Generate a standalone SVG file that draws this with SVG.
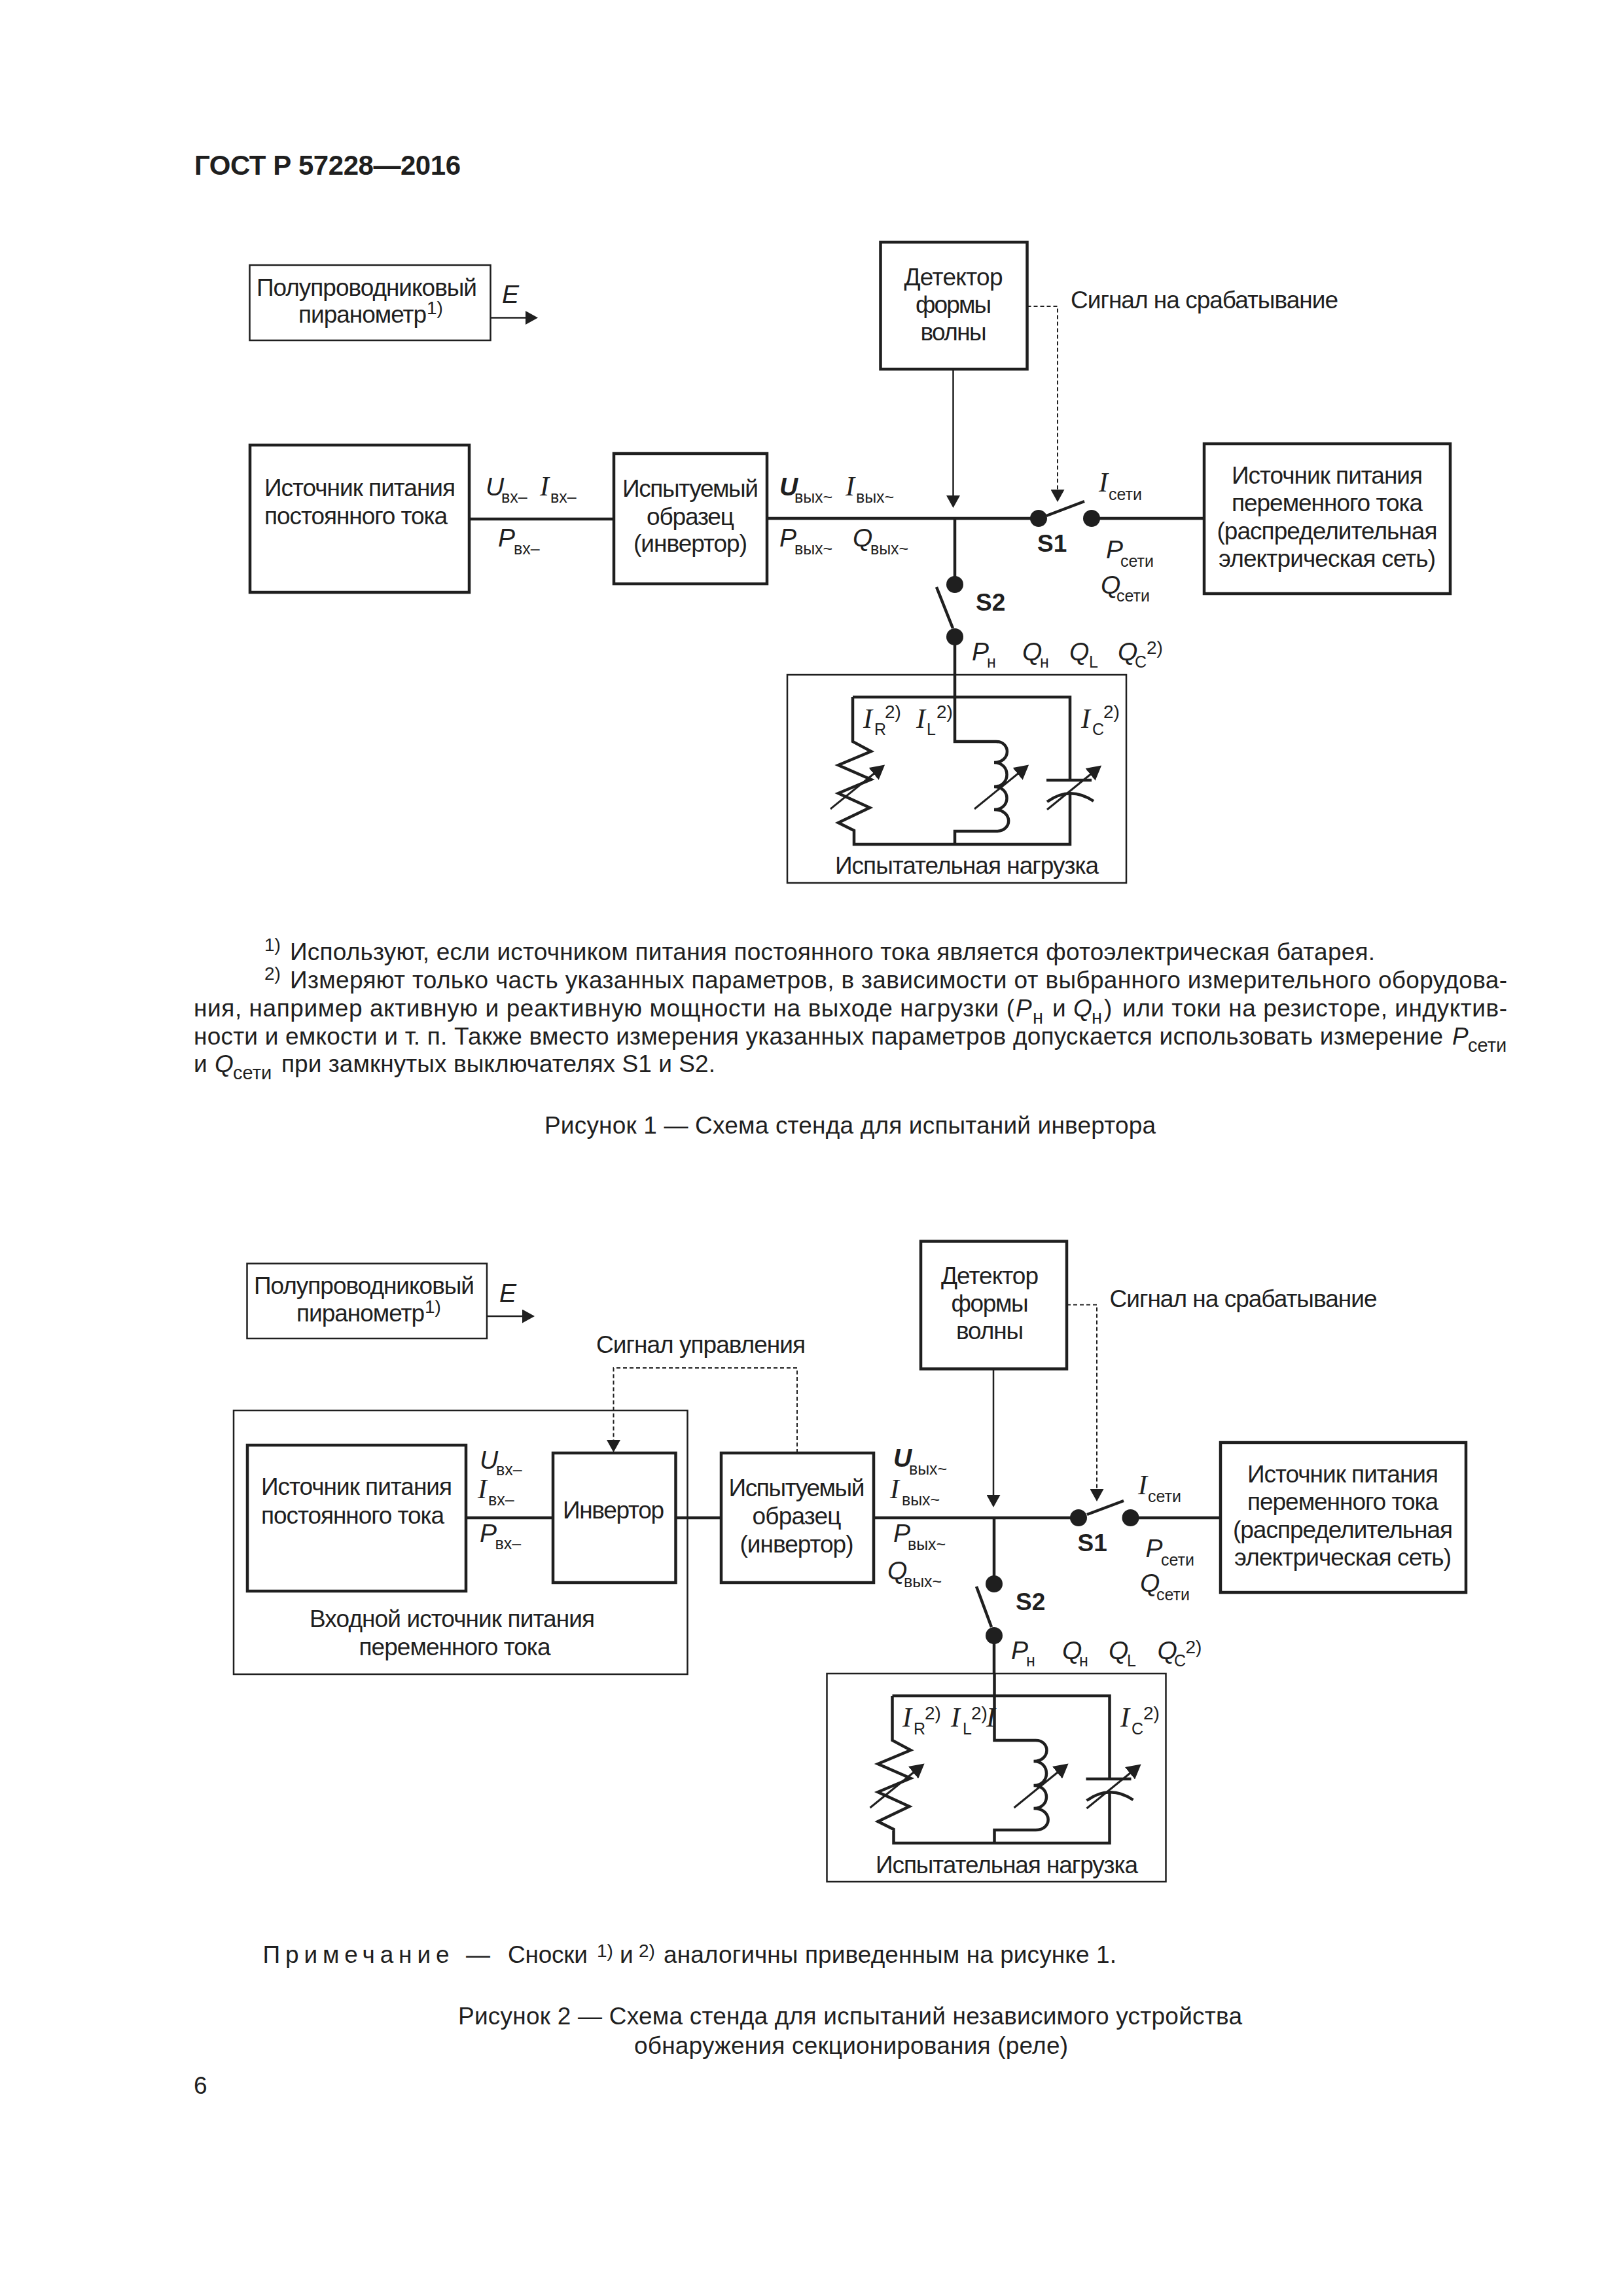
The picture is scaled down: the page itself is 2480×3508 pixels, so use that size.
<svg xmlns="http://www.w3.org/2000/svg" xmlns:xlink="http://www.w3.org/1999/xlink" width="2480" height="3508" viewBox="0 0 2480 3508">
<style>
text{font-family:"Liberation Sans",Arial,sans-serif;font-size:37px;fill:#1f1f1f}
.c{text-anchor:middle}
.h{font-weight:bold;font-size:42px}
.i{font-style:italic;font-size:39px}
.bi{font-style:italic;font-weight:bold;font-size:39px}
.b{font-weight:bold;font-size:37px}
.s{font-size:25px}
.u{font-size:28px}
.si{font-family:"Liberation Serif","Times New Roman",serif;font-style:italic;font-size:42px}
.fi{font-style:italic;font-size:37px}
.fs{font-size:29px}
.box{fill:none;stroke:#1f1f1f;stroke-width:4.5}
.thin{fill:none;stroke:#1f1f1f;stroke-width:2.5}
.wire{fill:none;stroke:#1f1f1f;stroke-width:4.5}
.ln{fill:none;stroke:#1f1f1f;stroke-width:2.5}
.dash{fill:none;stroke:#1f1f1f;stroke-width:2;stroke-dasharray:6 4}
.dot{fill:#1f1f1f}
</style>
<defs>
<marker id="ah" markerUnits="userSpaceOnUse" viewBox="0 0 19 21" refX="15" refY="10.5" markerWidth="19" markerHeight="21" orient="auto"><path d="M0,0L19,10.5L0,21Z" fill="#1f1f1f"/></marker>
<marker id="av" markerUnits="userSpaceOnUse" viewBox="0 0 22 24" refX="18" refY="12" markerWidth="22" markerHeight="24" orient="auto"><path d="M0,0L22,12L0,24Z" fill="#1f1f1f"/></marker>
<g id="circuit">
<rect class="thin" x="1203" y="1031" width="518" height="318"/>
<path class="wire" d="M1459,1031V1133H1522C1545,1133 1545,1165 1519,1165C1545,1165 1545,1202 1519,1202C1545,1202 1545,1237 1519,1237C1548,1237 1548,1270 1522,1270H1459V1290"/>
<path class="wire" d="M1303,1065H1635V1192M1303,1065V1133L1331,1148L1281,1169L1331,1191L1281,1212L1329,1234L1281,1257L1305,1269V1290H1635V1212"/>
<path class="wire" d="M1599,1192H1668M1600,1225Q1635,1200 1671,1224"/>
<path class="ln" style="stroke-width:3" d="M1269,1236L1349,1171" marker-end="url(#av)"/>
<path class="ln" style="stroke-width:3" d="M1489,1236L1569,1171" marker-end="url(#av)"/>
<path class="ln" style="stroke-width:3" d="M1600,1237L1680,1172" marker-end="url(#av)"/>
</g>
</defs>
<rect width="2480" height="3508" fill="#fff"/>

<text id="header" class="h" x="297" y="267" textLength="407">ГОСТ Р 57228—2016</text>

<g id="connectors-1">
<path class="ln" d="M749,485.5H818" marker-end="url(#ah)"/>
<path class="wire" d="M717,793H938M1172,792H1587M1668,792H1840M1459,792V893M1459,973V1031"/>
<path class="wire" d="M1599,788L1657,766M1456,960L1431,897"/>
<path class="ln" d="M1456.5,564V772" marker-end="url(#ah)"/>
<path class="dash" d="M1569.5,468H1616V763" marker-end="url(#ah)"/>
</g>
<g id="pyranometer-1">
<rect class="thin" x="381.5" y="405" width="368" height="115"/>
<text x="392" y="451.5" textLength="337">Полупроводниковый</text>
<text x="456" y="493" textLength="196">пиранометр</text>
<text class="u" x="652" y="480">1)</text>
<text class="i" x="767" y="463">E</text>
</g>
<g id="dc-source-1">
<rect class="box" x="382" y="680" width="335" height="225"/>
<text x="404" y="758" textLength="292">Источник питания</text>
<text x="404" y="801" textLength="280">постоянного тока</text>
</g>
<g id="labels-in-1">
<text class="i" x="742" y="757">U</text><text class="s" x="766" y="768">вх–</text>
<text class="si" x="825" y="757">I</text><text class="s" x="841" y="768">вх–</text>
<text class="i" x="761" y="835">P</text><text class="s" x="785" y="847">вх–</text>
</g>
<g id="sample-1">
<rect class="box" x="938" y="693" width="234" height="199"/>
<text class="c" x="1055" y="759" textLength="208">Испытуемый</text>
<text class="c" x="1055" y="802" textLength="134">образец</text>
<text class="c" x="1055" y="843" textLength="174">(инвертор)</text>
</g>
<g id="labels-out-1">
<text class="bi" x="1191" y="757">U</text><text class="s" x="1214" y="768" textLength="58">вых~</text>
<text class="si" x="1292" y="757">I</text><text class="s" x="1308" y="768" textLength="58">вых~</text>
<text class="i" x="1191" y="835">P</text><text class="s" x="1214" y="847" textLength="58">вых~</text>
<text class="i" x="1303" y="835">Q</text><text class="s" x="1330" y="847" textLength="58">вых~</text>
</g>
<g id="detector-1">
<rect class="box" x="1345.5" y="370" width="224" height="194"/>
<text class="c" x="1457" y="436" textLength="151">Детектор</text>
<text class="c" x="1457" y="478" textLength="116">формы</text>
<text class="c" x="1457" y="520" textLength="101">волны</text>
</g>
<text id="trip-signal-1" x="1636" y="471" textLength="409">Сигнал на срабатывание</text>
<g id="switch-s1-1">
<circle class="dot" cx="1587" cy="792" r="13"/><circle class="dot" cx="1668" cy="792" r="13"/>
<text class="b" x="1585" y="843">S1</text>
</g>
<g id="switch-s2-1">
<circle class="dot" cx="1459" cy="893" r="13"/><circle class="dot" cx="1459" cy="973" r="13"/>
<text class="b" x="1491" y="933">S2</text>
</g>
<g id="labels-grid-1">
<text class="si" x="1679" y="751">I</text><text class="s" x="1694" y="764">сети</text>
<text class="i" x="1690" y="853">P</text><text class="s" x="1712" y="866">сети</text>
<text class="i" x="1682" y="907">Q</text><text class="s" x="1706" y="919">сети</text>
</g>
<g id="ac-source-1">
<rect class="box" x="1840" y="678" width="376" height="229"/>
<text class="c" x="2028" y="739" textLength="292">Источник питания</text>
<text class="c" x="2028" y="781" textLength="292">переменного тока</text>
<text class="c" x="2028" y="824" textLength="337">(распределительная</text>
<text class="c" x="2028" y="866" textLength="332">электрическая сеть)</text>
</g>
<g id="labels-load-1">
<text class="i" x="1485" y="1009">P</text><text class="s" x="1508" y="1020">н</text>
<text class="i" x="1562" y="1009">Q</text><text class="s" x="1589" y="1020">н</text>
<text class="i" x="1634" y="1009">Q</text><text class="s" x="1664" y="1020">L</text>
<text class="i" x="1708" y="1009">Q</text><text class="s" x="1734" y="1020">C</text><text class="u" x="1752" y="999">2)</text>
</g>
<g id="load-1">
<use href="#circuit" xlink:href="#circuit"/>
<text class="si" x="1319" y="1112">I</text><text class="s" x="1336" y="1123">R</text><text class="u" x="1352" y="1097">2)</text>
<text class="si" x="1400" y="1112">I</text><text class="s" x="1416" y="1123">L</text><text class="u" x="1431" y="1097">2)</text>
<text class="si" x="1652" y="1112">I</text><text class="s" x="1669" y="1123">C</text><text class="u" x="1686" y="1097">2)</text>
<text x="1276" y="1335" textLength="403">Испытательная нагрузка</text>
</g>

<g id="notes-1">
<text class="u" x="404" y="1453">1)</text>
<text x="443" y="1467" textLength="1658">Используют, если источником питания постоянного тока является фотоэлектрическая батарея.</text>
<text class="u" x="404" y="1497">2)</text>
<text x="443" y="1510" textLength="1860">Измеряют только часть указанных параметров, в зависимости от выбранного измерительного оборудова-</text>
<text x="296" y="1553" textLength="1254">ния, например активную и реактивную мощности на выходе нагрузки (</text>
<text class="fi" x="1552" y="1553">P</text><text class="fs" x="1578" y="1564">н</text>
<text x="1608" y="1553">и</text>
<text class="fi" x="1640" y="1553">Q</text><text class="fs" x="1668" y="1564">н</text>
<text x="1687" y="1553">)</text>
<text x="1715" y="1553" textLength="588">или токи на резисторе, индуктив-</text>
<text x="296" y="1596" textLength="1909">ности и емкости и т. п. Также вместо измерения указанных параметров допускается использовать измерение</text>
<text class="fi" x="2219" y="1596">P</text><text class="fs" x="2243" y="1607">сети</text>
<text x="296" y="1638">и</text>
<text class="fi" x="328" y="1638">Q</text><text class="fs" x="356" y="1649">сети</text>
<text x="430" y="1638" textLength="663">при замкнутых выключателях S1 и S2.</text>
</g>
<text id="caption-1" x="832" y="1732" textLength="934">Рисунок 1 — Схема стенда для испытаний инвертора</text>

<g id="connectors-2">
<path class="ln" d="M744,2011H813" marker-end="url(#ah)"/>
<path class="wire" d="M712,2319H845M1033,2319H1102M1335,2319H1648M1727,2319H1865M1519,2319V2420M1519,2499V2558"/>
<path class="wire" d="M1661,2314L1717,2293M1515,2486L1492,2424"/>
<path class="ln" d="M1518,2092V2299" marker-end="url(#ah)"/>
<path class="dash" d="M1630,1993.5H1676V2290" marker-end="url(#ah)"/>
<path class="dash" d="M1218,2220V2090H937.5V2215" marker-end="url(#ah)"/>
</g>
<g id="pyranometer-2">
<rect class="thin" x="377.5" y="1930.5" width="366.5" height="114.5"/>
<text x="388" y="1977" textLength="337">Полупроводниковый</text>
<text x="453" y="2019" textLength="196">пиранометр</text>
<text class="u" x="649" y="2006">1)</text>
<text class="i" x="763" y="1988.5">E</text>
</g>
<text id="control-signal" x="911" y="2066.5" textLength="320">Сигнал управления</text>
<g id="input-source">
<rect class="thin" x="357" y="2155" width="693.5" height="403"/>
<text x="473" y="2486" textLength="436">Входной источник питания</text>
<text class="c" x="695" y="2529" textLength="293">переменного тока</text>
</g>
<g id="dc-source-2">
<rect class="box" x="378" y="2208" width="334" height="223"/>
<text x="399" y="2284" textLength="292">Источник питания</text>
<text x="399" y="2328" textLength="280">постоянного тока</text>
</g>
<g id="labels-in-2">
<text class="i" x="733" y="2244">U</text><text class="s" x="758" y="2254">вх–</text>
<text class="si" x="730" y="2288.5">I</text><text class="s" x="746" y="2300">вх–</text>
<text class="i" x="733" y="2356">P</text><text class="s" x="756.5" y="2367">вх–</text>
</g>
<g id="inverter">
<rect class="box" x="845" y="2220" width="187.5" height="198"/>
<text x="860" y="2320" textLength="155">Инвертор</text>
</g>
<g id="sample-2">
<rect class="box" x="1102" y="2220" width="233" height="198"/>
<text class="c" x="1217.5" y="2286" textLength="208">Испытуемый</text>
<text class="c" x="1217.5" y="2329" textLength="136">образец</text>
<text class="c" x="1217.5" y="2372" textLength="174">(инвертор)</text>
</g>
<g id="labels-out-2">
<text class="bi" x="1365" y="2241">U</text><text class="s" x="1389" y="2253" textLength="58">вых~</text>
<text class="si" x="1360" y="2288.5">I</text><text class="s" x="1378" y="2300" textLength="58">вых~</text>
<text class="i" x="1365" y="2356">P</text><text class="s" x="1387" y="2368" textLength="58">вых~</text>
<text class="i" x="1356" y="2413">Q</text><text class="s" x="1381" y="2425" textLength="58">вых~</text>
</g>
<g id="detector-2">
<rect class="box" x="1407" y="1896.5" width="223" height="195"/>
<text class="c" x="1512.5" y="1961.5" textLength="149">Детектор</text>
<text class="c" x="1512.5" y="2003.5" textLength="118">формы</text>
<text class="c" x="1512.5" y="2045.5" textLength="103">волны</text>
</g>
<text id="trip-signal-2" x="1695.5" y="1997" textLength="409">Сигнал на срабатывание</text>
<g id="switch-s1-2">
<circle class="dot" cx="1648" cy="2319" r="13"/><circle class="dot" cx="1727.5" cy="2319" r="13"/>
<text class="b" x="1646.5" y="2370">S1</text>
</g>
<g id="switch-s2-2">
<circle class="dot" cx="1519" cy="2420" r="13"/><circle class="dot" cx="1519" cy="2499" r="13"/>
<text class="b" x="1552" y="2460">S2</text>
</g>
<g id="labels-grid-2">
<text class="si" x="1739" y="2283">I</text><text class="s" x="1754" y="2295">сети</text>
<text class="i" x="1750.5" y="2379">P</text><text class="s" x="1774" y="2392">сети</text>
<text class="i" x="1742" y="2432">Q</text><text class="s" x="1767" y="2445">сети</text>
</g>
<g id="ac-source-2">
<rect class="box" x="1865" y="2204" width="375" height="229"/>
<text class="c" x="2052" y="2265" textLength="292">Источник питания</text>
<text class="c" x="2052" y="2307" textLength="292">переменного тока</text>
<text class="c" x="2052" y="2350" textLength="336">(распределительная</text>
<text class="c" x="2052" y="2392" textLength="332">электрическая сеть)</text>
</g>
<g id="labels-load-2">
<text class="i" x="1545" y="2535">P</text><text class="s" x="1568" y="2546">н</text>
<text class="i" x="1623" y="2535">Q</text><text class="s" x="1649" y="2546">н</text>
<text class="i" x="1694" y="2535">Q</text><text class="s" x="1722" y="2546">L</text>
<text class="i" x="1768.5" y="2535">Q</text><text class="s" x="1794" y="2546">C</text><text class="u" x="1811.5" y="2526">2)</text>
</g>
<g id="load-2">
<use href="#circuit" xlink:href="#circuit" transform="translate(60.5,1526)"/>
<text class="si" x="1379" y="2638">I</text><text class="s" x="1396" y="2650">R</text><text class="u" x="1413" y="2627">2)</text>
<text class="si" x="1453" y="2638">I</text><text class="s" x="1471" y="2650">L</text><text class="u" x="1484" y="2627">2)</text>
<text class="si" x="1507" y="2638">I</text>
<text class="si" x="1712" y="2638">I</text><text class="s" x="1729" y="2650">C</text><text class="u" x="1747" y="2627">2)</text>
<text x="1338" y="2862" textLength="401">Испытательная нагрузка</text>
</g>

<g id="note-2">
<text x="401.5" y="2999" textLength="285">Примечание</text>
<text x="712" y="2999">—</text>
<text x="776" y="2999" textLength="122">Сноски</text>
<text class="u" x="912" y="2990">1)</text>
<text x="947" y="2999">и</text>
<text class="u" x="976" y="2990">2)</text>
<text x="1014" y="2999" textLength="692">аналогичны приведенным на рисунке 1.</text>
</g>
<text id="caption-2a" x="700" y="3093" textLength="1198">Рисунок 2 — Схема стенда для испытаний независимого устройства</text>
<text id="caption-2b" x="969" y="3138" textLength="663">обнаружения секционирования (реле)</text>
<text id="page-number" x="296" y="3199">6</text>
</svg>
